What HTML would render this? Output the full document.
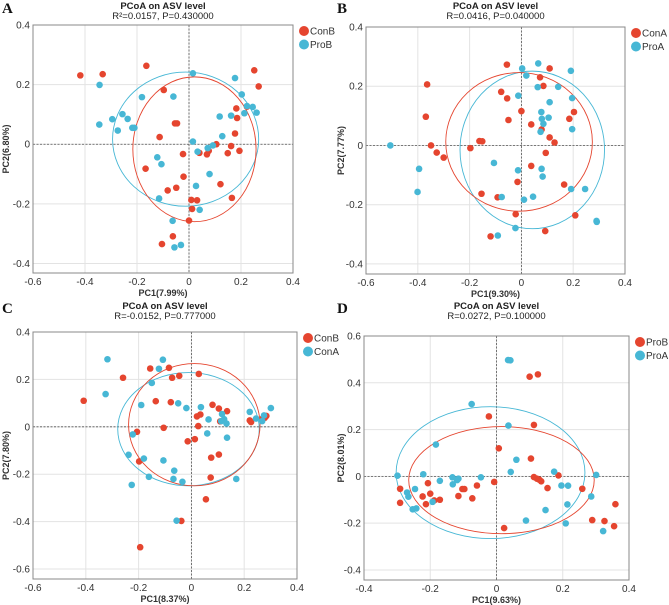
<!DOCTYPE html>
<html><head><meta charset="utf-8"><style>
body{margin:0;background:#fff}
svg{display:block;font-family:"Liberation Sans",Arial,sans-serif}
</style></head><body>
<svg id="fig" width="669" height="605" viewBox="0 0 669 605"></svg>
<script>
// Panel A data
const aRedX=[-0.418,-0.332,-0.164,0.251,0.268,-0.097,0.182,0.223,0.185,-0.054,-0.046,-0.113,0.177,0.105,0.162,0.194,0.149,0.076,0.069,0.040,-0.023,-0.167,-0.021,0.121,-0.049,-0.082,0.165,0.009,0.031,0.012,0,-0.062,-0.104];
const aRedY=[0.231,0.235,0.263,0.248,0.194,0.182,0.120,0.126,0.088,0.070,0.070,0.024,0.036,0,-0.006,-0.022,-0.030,-0.022,-0.034,-0.029,-0.033,-0.082,-0.109,-0.134,-0.146,-0.155,-0.180,-0.187,-0.188,-0.217,-0.256,-0.309,-0.335];
const aBlueX=[-0.344,0.015,0.177,-0.181,-0.060,0.203,0.223,0.245,0.213,0.260,0.118,0.162,-0.295,-0.256,-0.236,-0.218,-0.210,-0.345,-0.274,0.128,0.015,0.092,0.072,0.033,-0.122,-0.106,0.079,0.027,-0.115,0.041,-0.063,-0.031,-0.056];
const aBlueY=[0.199,0.238,0.222,0.158,0.160,0.167,0.128,0.125,0.104,0.106,0.093,0.096,0.084,0.101,0.085,0.055,0.055,0.066,0.046,0.027,0.009,-0.004,-0.013,-0.025,-0.044,-0.067,-0.100,-0.140,-0.182,-0.220,-0.257,-0.338,-0.346];
// Panel B data
const bRedX=[-0.056,0.109,-0.364,0.072,-0.078,0.085,-0.055,0,0.203,0.185,-0.369,-0.050,0.038,0.078,0.109,0.128,-0.162,-0.151,-0.349,-0.197,-0.327,-0.300,0.094,0.038,-0.015,0.165,-0.154,-0.092,-0.022,0.208,0.092,-0.119];
const bRedY=[0.273,0.260,0.206,0.230,0.181,0.201,0.159,0.116,0.113,0.090,0.097,0.086,0.071,0.054,0.027,0.010,0.015,0.014,0,-0.009,-0.024,-0.041,-0.025,-0.069,-0.123,-0.132,-0.163,-0.175,-0.232,-0.236,-0.289,-0.307];
const bBlueX=[0.065,0.003,0.191,0.019,0.063,0.142,-0.012,0.196,0.109,0.077,0.105,0.079,0.085,0.196,0.074,-0.506,-0.106,-0.395,-0.013,0.078,0.082,-0.401,0.192,0.246,-0.076,0.045,0.010,0.290,0.291,-0.023,-0.091];
const bBlueY=[0.277,0.260,0.252,0.236,0.197,0.198,0.168,0.160,0.146,0.113,0.094,0.090,0.073,0.055,0.046,0,-0.059,-0.079,-0.084,-0.079,-0.105,-0.157,-0.147,-0.147,-0.174,-0.173,-0.183,-0.255,-0.258,-0.279,-0.304];
// Panel C data
const cRedX=[-0.408,-0.259,-0.156,-0.085,-0.073,-0.046,0.028,-0.135,-0.078,0.080,0.104,0.135,0.021,0.034,0.221,0.226,0.269,0.278,0.284,0.109,0.026,-0.105,-0.206,0.013,-0.014,-0.198,0.075,0.104,0.073,0.055,-0.038,-0.194];
const cRedY=[0.110,0.207,0.246,0.249,0.207,0.215,0.223,0.108,0.104,0.093,0.077,0.066,0.044,0.052,0.027,0.020,0.034,0.038,0.046,0.023,0.003,-0.004,-0.021,-0.052,-0.061,-0.146,-0.130,-0.117,-0.214,-0.306,-0.397,-0.508];
const cBlueX=[-0.318,-0.108,-0.123,-0.150,-0.325,-0.190,-0.050,-0.019,0.036,0.065,0.116,0.124,0.113,0.133,0.221,0.245,0.268,0.275,0.301,-0.222,0.060,0.135,-0.238,-0.180,-0.106,-0.065,-0.161,-0.068,-0.034,-0.226,0.170,-0.056];
const cBlueY=[0.285,0.283,0.245,0.185,0.138,0.092,0.099,0.079,0.083,0.031,0.054,0.032,0.024,0.014,0.063,0.035,0.024,0.048,0.079,-0.032,-0.028,-0.046,-0.118,-0.134,-0.142,-0.185,-0.211,-0.220,-0.232,-0.245,-0.220,-0.396];
// Panel D data
const dRedX=[0.100,0.125,-0.023,0.113,0.007,0.104,0.187,0.113,0.122,0.129,0.135,-0.007,0.154,0.259,-0.291,-0.207,-0.200,-0.223,-0.213,-0.188,-0.171,-0.103,-0.097,-0.059,-0.115,-0.073,-0.291,0.359,0.289,0.326,0.355,0.023];
const dRedY=[0.426,0.436,0.256,0.220,0.120,0.076,0.004,-0.003,-0.010,-0.014,-0.021,-0.024,-0.050,-0.053,-0.053,-0.029,-0.074,-0.086,-0.119,-0.103,-0.100,-0.054,-0.054,-0.039,-0.084,-0.094,-0.113,-0.119,-0.187,-0.191,-0.213,-0.221];
const dBlueX=[0.035,0.042,-0.075,0.036,-0.183,0.060,0.043,0.174,0.301,-0.299,-0.221,-0.171,-0.133,-0.132,-0.119,-0.115,-0.047,0.196,0.216,-0.246,-0.270,-0.266,-0.193,-0.253,-0.242,0.286,0.214,0.148,0.089,0.209,0.322];
const dBlueY=[0.497,0.496,0.309,0.217,0.136,0.071,0.019,0.020,0.006,0.003,0.009,-0.019,-0.004,-0.034,-0.016,-0.010,-0.004,-0.039,-0.040,-0.054,-0.069,-0.087,-0.109,-0.141,-0.137,-0.086,-0.120,-0.144,-0.189,-0.201,-0.234];
// ellipses [cx, cy, rx, ry] per group
const aEllRed=[0.021,-0.017,0.237,0.243], aEllBlue=[-0.013,0.017,0.281,0.225];
const bEllRed=[-0.009,0.012,0.283,0.234], bEllBlue=[0.042,-0.015,0.279,0.266];
const cEllRed=[0.011,0.009,0.249,0.258], cEllBlue=[-0.011,-0.010,0.268,0.239];
const dEllRed=[0.015,-0.016,0.280,0.229], dEllBlue=[-0.018,0.016,0.285,0.282];
const xTicksABC=[-0.6,-0.4,-0.2,0,0.2,0.4], xTicksD=[-0.4,-0.2,0,0.2,0.4];
const yTicksAB=[-0.4,-0.2,0,0.2,0.4], yTicksC=[-0.6,-0.4,-0.2,0,0.2,0.4], yTicksD=[-0.4,-0.2,0,0.2,0.4,0.6];

const RED='#e5452f', BLUE='#47b7d5';
const NS='http://www.w3.org/2000/svg';
const svg=document.getElementById('fig');
function mk(tag,attrs,parent,text){const e=document.createElementNS(NS,tag);for(const k in attrs)e.setAttribute(k,attrs[k]);if(text!==undefined)e.textContent=text;(parent||svg).appendChild(e);return e;}

const panels=[
 {id:'a',letter:'A',L:33,R:293,T:25,B:273,x0:-0.6,x1:0.4,y0:-0.432,y1:0.4,xt:xTicksABC,yt:yTicksAB,sub:'R²=0.0157, P=0.430000',xl:'PC1(7.99%)',yl:'PC2(6.80%)',g:['ConB','ProB'],rx:aRedX,ry:aRedY,bx:aBlueX,by:aBlueY,er:aEllRed,eb:aEllBlue,ox:0,oy:0},
 {id:'b',letter:'B',L:366,R:625,T:27,B:274,x0:-0.6,x1:0.4,y0:-0.434,y1:0.4,xt:xTicksABC,yt:yTicksAB,sub:'R=0.0416, P=0.040000',xl:'PC1(9.30%)',yl:'PC2(7.77%)',g:['ConA','ProA'],rx:bRedX,ry:bRedY,bx:bBlueX,by:bBlueY,er:bEllRed,eb:bEllBlue,ox:335,oy:0},
 {id:'c',letter:'C',L:33,R:297,T:332,B:579,x0:-0.6,x1:0.4,y0:-0.642,y1:0.4,xt:xTicksABC,yt:yTicksC,sub:'R=-0.0152, P=0.777000',xl:'PC1(8.37%)',yl:'PC2(7.80%)',g:['ConB','ConA'],rx:cRedX,ry:cRedY,bx:cBlueX,by:cBlueY,er:cEllRed,eb:cEllBlue,ox:0,oy:300},
 {id:'d',letter:'D',L:364,R:629,T:336,B:580,x0:-0.4,x1:0.4,y0:-0.443,y1:0.6,xt:xTicksD,yt:yTicksD,sub:'R=0.0272, P=0.100000',xl:'PC1(9.63%)',yl:'PC2(8.01%)',g:['ProB','ProA'],rx:dRedX,ry:dRedY,bx:dBlueX,by:dBlueY,er:dEllRed,eb:dEllBlue,ox:335,oy:300}
];

panels.forEach(p=>{
  const g=mk('g',{});
  
  
  const sx=v=>p.L+(v-p.x0)/(p.x1-p.x0)*(p.R-p.L);
  const sy=v=>p.B-(v-p.y0)/(p.y1-p.y0)*(p.B-p.T);
  const cx=(p.L+p.R)/2;
  const lt=mk('text',{x:p.ox+2,y:p.oy+13,'font-family':'"Liberation Serif",serif','font-weight':'bold','font-size':15,fill:'#111'},g,p.letter);
  
  
  const t1=mk('text',{x:cx,y:p.oy+9,'text-anchor':'middle','font-weight':'bold','font-size':9.5,fill:'#222'},g,'PCoA on ASV level');
  
  
  const t2=mk('text',{x:cx,y:p.oy+19,'text-anchor':'middle','font-size':9.5,fill:'#222'},g,p.sub);
  
  
  p.xt.forEach(v=>{
    const gl=mk('line',{x1:sx(v),x2:sx(v),y1:p.T,y2:p.B,stroke:'#e3e3e3','stroke-width':1},g);
    
    
    const tl=mk('text',{x:sx(v),y:p.B+12,'text-anchor':'middle','font-size':10,fill:'#333'},g,String(v));
    
    
  });
  p.yt.forEach(v=>{
    const gl=mk('line',{x1:p.L,x2:p.R,y1:sy(v),y2:sy(v),stroke:'#e3e3e3','stroke-width':1},g);
    
    
    const tl=mk('text',{x:p.L-3,y:sy(v)+3.5,'text-anchor':'end','font-size':10,fill:'#333'},g,String(v));
    
    
  });
  const z1=mk('line',{x1:sx(0),x2:sx(0),y1:p.T,y2:p.B,stroke:'#555','stroke-width':0.8,'stroke-dasharray':'2,1.5'},g);
  
  
  const z2=mk('line',{x1:p.L,x2:p.R,y1:sy(0),y2:sy(0),stroke:'#555','stroke-width':0.8,'stroke-dasharray':'2,1.5'},g);
  
  
  const fr=mk('rect',{x:p.L,y:p.T,width:p.R-p.L,height:p.B-p.T,fill:'none',stroke:'#888','stroke-width':1},g);
  
  
  const xa=mk('text',{x:cx,y:p.B+23,'text-anchor':'middle','font-weight':'bold','font-size':9,fill:'#333'},g,p.xl);
  
  
  const yc=(p.T+p.B)/2;
  const ya=mk('text',{x:p.ox+9,y:yc,'text-anchor':'middle','font-weight':'bold','font-size':9,fill:'#333',transform:`rotate(-90 ${p.ox+9} ${yc})`},g,p.yl);
  
  
  [[p.eb,BLUE],[p.er,RED]].forEach(([e,c],i)=>{
    const el=mk('ellipse',{cx:sx(e[0]),cy:sy(e[1]),rx:Math.abs(sx(e[2])-sx(0)),ry:Math.abs(sy(0)-sy(e[3])),fill:'none',stroke:c,'stroke-width':0.9},g);
    
    
  });
  [[p.rx,p.ry,RED,'group1'],[p.bx,p.by,BLUE,'group2']].forEach(([xs,ys,c,n])=>{
    xs.forEach((v,i)=>{
      const pt=mk('circle',{cx:sx(v),cy:sy(ys[i]),r:3.3,fill:c},g);
      
      
    });
  });
  [RED,BLUE].forEach((c,i)=>{
    const ly=p.T+6+i*13.5;
    const lg=mk('g',{},g);
    
    
    mk('circle',{cx:p.R+11,cy:ly,r:5,fill:c},lg);
    mk('text',{x:p.R+17,y:ly+3.5,'font-size':10,fill:'#333'},lg,p.g[i]);
  });
});
</script>
</body></html>
